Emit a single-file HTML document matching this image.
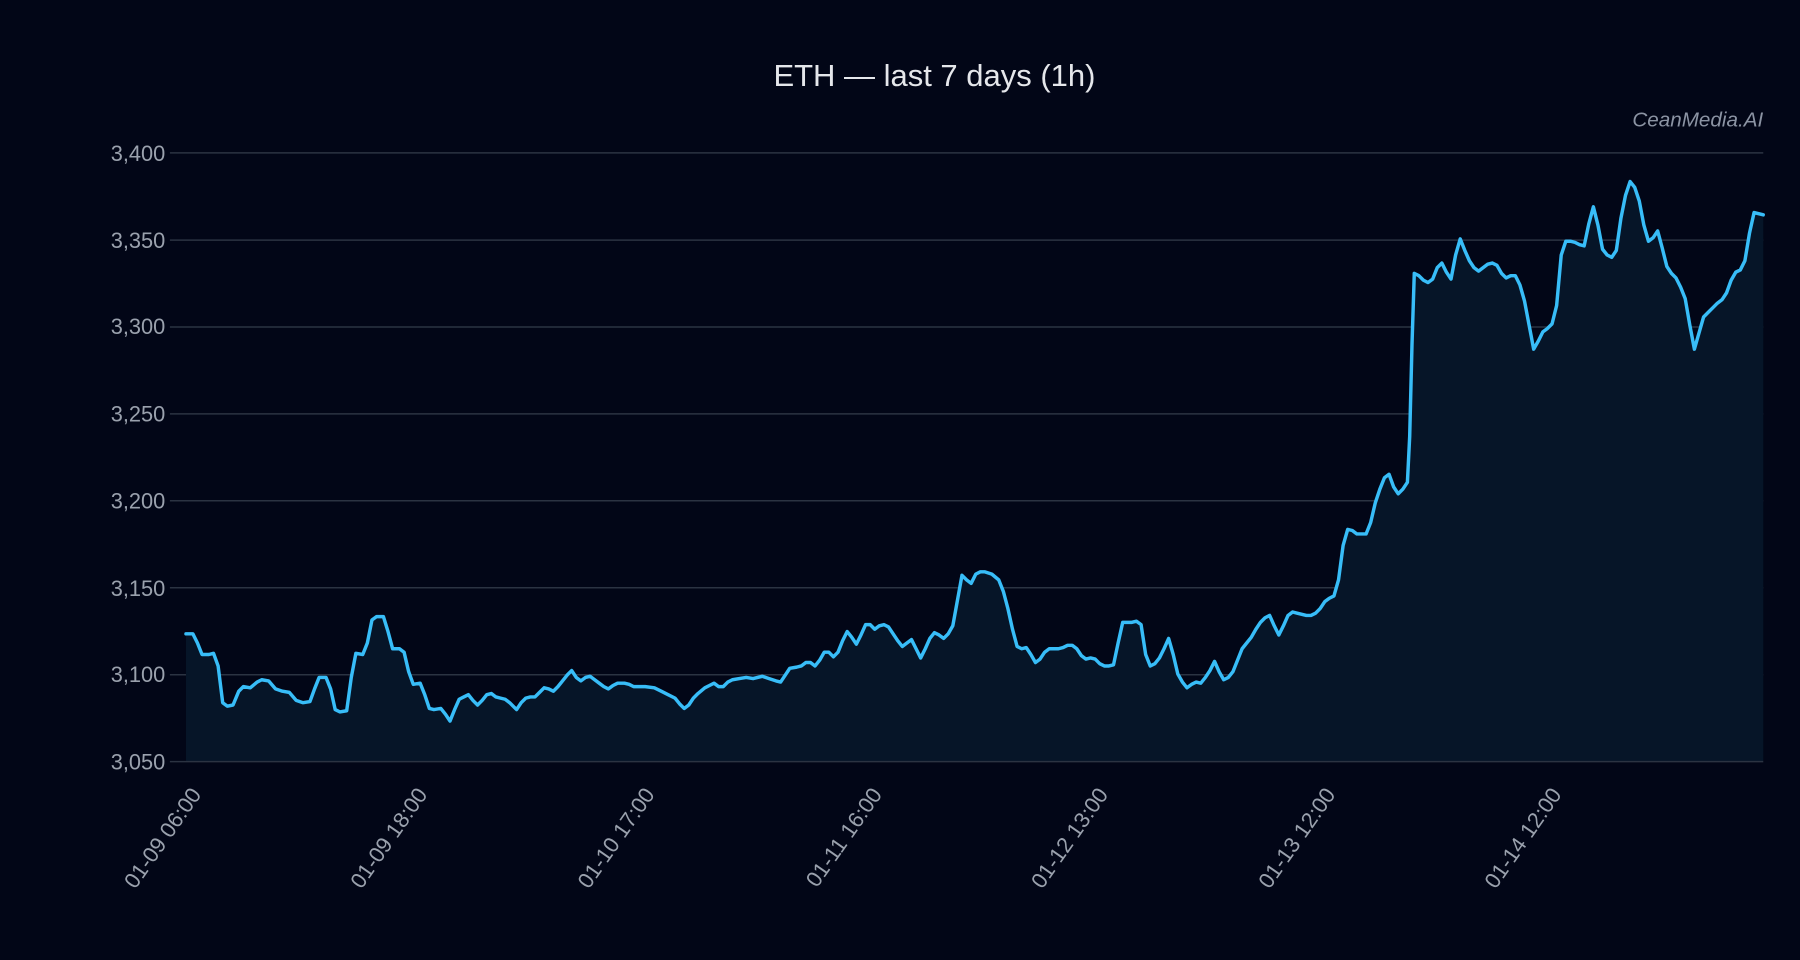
<!DOCTYPE html>
<html><head><meta charset="utf-8"><style>
html,body{margin:0;padding:0;background:#020617;}
svg{display:block;}
text{font-family:"Liberation Sans",sans-serif;}
</style></head><body>
<svg width="1800" height="960" viewBox="0 0 1568 836" xmlns="http://www.w3.org/2000/svg">
<rect width="1568" height="836" fill="#020617"/>
<text x="814" y="75" text-anchor="middle" font-size="27" fill="#e5e7eb">ETH — last 7 days (1h)</text>
<text x="1536" y="110" text-anchor="end" font-size="18" font-style="italic" fill="#8b93a3">CeanMedia.AI</text>
<g stroke="#2b3342" stroke-width="1.3">
<line x1="148" y1="133" x2="1536" y2="133"/>
<line x1="148" y1="209" x2="1536" y2="209"/>
<line x1="148" y1="284.7" x2="1536" y2="284.7"/>
<line x1="148" y1="360.4" x2="1536" y2="360.4"/>
<line x1="148" y1="436.1" x2="1536" y2="436.1"/>
<line x1="148" y1="511.9" x2="1536" y2="511.9"/>
<line x1="148" y1="587.6" x2="1536" y2="587.6"/>
</g>
<g font-size="19" fill="#9aa1ad" text-anchor="end">
<text x="144" y="140">3,400</text>
<text x="144" y="216">3,350</text>
<text x="144" y="291">3,300</text>
<text x="144" y="367">3,250</text>
<text x="144" y="443">3,200</text>
<text x="144" y="519">3,150</text>
<text x="144" y="594">3,100</text>
<text x="144" y="670">3,050</text>
</g>
<path fill="#061528" stroke="none" d="M162,663 L162,552 168,552 172,560 176,570 182,570 186,569 190,580 194,612 198,615 203,614 208,602 212,598 218,599 224,594 228,592 234,593 240,600 246,602 252,603 258,610 264,612 270,611 274,600 278,590 284,590 288,600 292,618 296,620 302,619 306,590 310,569 316,570 320,560 324,540 328,537 334,537 338,550 342,565 348,565 352,568 356,585 360,596 366,595 370,605 374,617 378,618 384,617 388,622 392,628 396,618 400,609 404,607 408,605 412,610 416,614 420,610 424,605 428,604 432,607 436,608 440,609 444,612 448,616 450,618 454,612 458,608 462,607 466,607 470,603 474,599 478,600 482,602 486,598 490,593 494,588 498,584 502,590 506,593 510,590 514,589 518,592 522,595 526,598 530,600 534,597 538,595 544,595 548,596 552,598 556,598 562,598 570,599 576,602 582,605 588,608 592,613 596,617 600,614 604,608 608,604 614,599 618,597 622,595 626,598 630,598 634,594 638,592 644,591 650,590 656,591 660,590 664,589 670,591 676,593 680,594 684,588 688,582 694,581 698,580 702,577 706,577 710,580 714,575 718,568 722,568 726,572 730,568 734,558 738,550 742,555 746,561 750,553 754,544 758,544 762,548 766,545 770,544 774,546 778,552 782,558 786,563 790,560 794,557 798,565 802,573 806,565 810,556 814,551 818,553 822,556 826,552 830,545 834,523 838,501 842,505 846,508 850,500 854,498 858,498 864,500 870,505 874,515 878,530 882,548 886,563 890,565 894,564 898,570 902,577 906,574 910,568 914,565 918,565 922,565 926,564 930,562 934,562 938,565 942,571 946,574 950,573 954,574 958,578 962,580 966,580 970,579 974,560 978,542 982,542 986,542 990,541 994,544 998,570 1002,580 1006,578 1010,573 1014,565 1018,556 1022,570 1026,587 1030,594 1034,599 1038,596 1042,594 1046,595 1050,590 1054,584 1058,576 1062,585 1066,592 1070,590 1074,585 1078,575 1082,565 1086,560 1090,555 1094,548 1098,542 1102,538 1106,536 1110,545 1114,553 1118,545 1122,536 1126,533 1130,534 1134,535 1138,536 1142,536 1146,534 1150,530 1154,524 1158,521 1162,519 1166,505 1170,475 1174,461 1178,462 1182,465 1186,465 1190,465 1194,455 1198,438 1202,426 1206,416 1210,413 1214,424 1218,430 1222,426 1226,420 1228,380 1230,300 1232,238 1236,240 1240,244 1244,246 1248,243 1252,233 1256,229 1260,237 1264,243 1268,222 1272,208 1276,218 1280,227 1284,233 1288,236 1292,233 1296,230 1300,229 1304,231 1308,238 1312,242 1316,240 1320,240 1324,248 1328,262 1332,283 1336,304 1340,297 1344,289 1348,286 1352,282 1356,266 1360,222 1364,210 1368,210 1372,211 1376,213 1380,214 1384,195 1388,180 1392,196 1396,217 1400,222 1404,224 1408,218 1412,190 1416,170 1420,158 1424,163 1428,175 1432,196 1436,210 1440,207 1444,201 1448,216 1452,232 1456,238 1460,242 1464,250 1468,260 1472,283 1476,304 1480,290 1484,276 1488,272 1492,268 1496,264 1500,261 1504,255 1508,244 1512,237 1516,235 1520,227 1524,203 1528,185 1532,186 1536,187 L1536,663 Z"/>
<line x1="148" y1="663.3" x2="1536" y2="663.3" stroke="#2b3342" stroke-width="1.3"/>
<path fill="none" stroke="#38bdf8" stroke-width="3" stroke-linejoin="round" stroke-linecap="round" d="M162,552 168,552 172,560 176,570 182,570 186,569 190,580 194,612 198,615 203,614 208,602 212,598 218,599 224,594 228,592 234,593 240,600 246,602 252,603 258,610 264,612 270,611 274,600 278,590 284,590 288,600 292,618 296,620 302,619 306,590 310,569 316,570 320,560 324,540 328,537 334,537 338,550 342,565 348,565 352,568 356,585 360,596 366,595 370,605 374,617 378,618 384,617 388,622 392,628 396,618 400,609 404,607 408,605 412,610 416,614 420,610 424,605 428,604 432,607 436,608 440,609 444,612 448,616 450,618 454,612 458,608 462,607 466,607 470,603 474,599 478,600 482,602 486,598 490,593 494,588 498,584 502,590 506,593 510,590 514,589 518,592 522,595 526,598 530,600 534,597 538,595 544,595 548,596 552,598 556,598 562,598 570,599 576,602 582,605 588,608 592,613 596,617 600,614 604,608 608,604 614,599 618,597 622,595 626,598 630,598 634,594 638,592 644,591 650,590 656,591 660,590 664,589 670,591 676,593 680,594 684,588 688,582 694,581 698,580 702,577 706,577 710,580 714,575 718,568 722,568 726,572 730,568 734,558 738,550 742,555 746,561 750,553 754,544 758,544 762,548 766,545 770,544 774,546 778,552 782,558 786,563 790,560 794,557 798,565 802,573 806,565 810,556 814,551 818,553 822,556 826,552 830,545 834,523 838,501 842,505 846,508 850,500 854,498 858,498 864,500 870,505 874,515 878,530 882,548 886,563 890,565 894,564 898,570 902,577 906,574 910,568 914,565 918,565 922,565 926,564 930,562 934,562 938,565 942,571 946,574 950,573 954,574 958,578 962,580 966,580 970,579 974,560 978,542 982,542 986,542 990,541 994,544 998,570 1002,580 1006,578 1010,573 1014,565 1018,556 1022,570 1026,587 1030,594 1034,599 1038,596 1042,594 1046,595 1050,590 1054,584 1058,576 1062,585 1066,592 1070,590 1074,585 1078,575 1082,565 1086,560 1090,555 1094,548 1098,542 1102,538 1106,536 1110,545 1114,553 1118,545 1122,536 1126,533 1130,534 1134,535 1138,536 1142,536 1146,534 1150,530 1154,524 1158,521 1162,519 1166,505 1170,475 1174,461 1178,462 1182,465 1186,465 1190,465 1194,455 1198,438 1202,426 1206,416 1210,413 1214,424 1218,430 1222,426 1226,420 1228,380 1230,300 1232,238 1236,240 1240,244 1244,246 1248,243 1252,233 1256,229 1260,237 1264,243 1268,222 1272,208 1276,218 1280,227 1284,233 1288,236 1292,233 1296,230 1300,229 1304,231 1308,238 1312,242 1316,240 1320,240 1324,248 1328,262 1332,283 1336,304 1340,297 1344,289 1348,286 1352,282 1356,266 1360,222 1364,210 1368,210 1372,211 1376,213 1380,214 1384,195 1388,180 1392,196 1396,217 1400,222 1404,224 1408,218 1412,190 1416,170 1420,158 1424,163 1428,175 1432,196 1436,210 1440,207 1444,201 1448,216 1452,232 1456,238 1460,242 1464,250 1468,260 1472,283 1476,304 1480,290 1484,276 1488,272 1492,268 1496,264 1500,261 1504,255 1508,244 1512,237 1516,235 1520,227 1524,203 1528,185 1532,186 1536,187"/>
<g font-size="19" fill="#9aa1ad" text-anchor="end">
<text transform="translate(176,692) rotate(-55)">01-09 06:00</text>
<text transform="translate(373,692) rotate(-55)">01-09 18:00</text>
<text transform="translate(571,692) rotate(-55)">01-10 17:00</text>
<text transform="translate(769,692) rotate(-55)">01-11 16:00</text>
<text transform="translate(966,692) rotate(-55)">01-12 13:00</text>
<text transform="translate(1164,692) rotate(-55)">01-13 12:00</text>
<text transform="translate(1361,692) rotate(-55)">01-14 12:00</text>
</g>
</svg>
</body></html>
